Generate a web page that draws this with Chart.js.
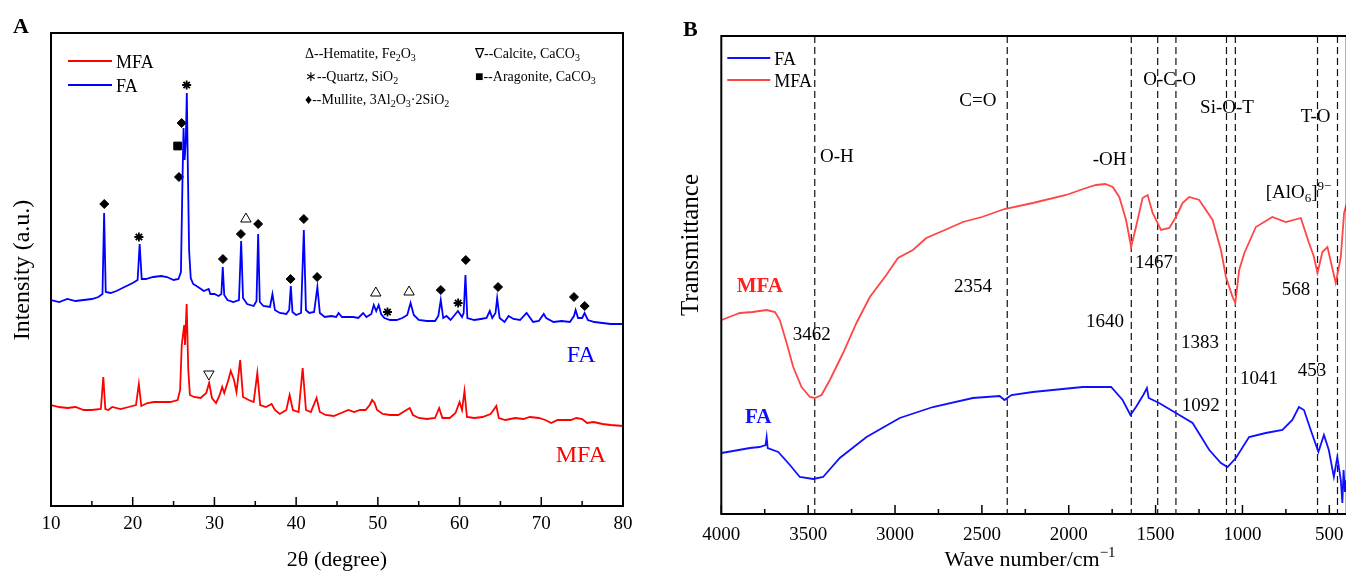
<!DOCTYPE html>
<html>
<head>
<meta charset="utf-8">
<script src="https://cdn.jsdelivr.net/npm/chart.js@4.4.1/dist/chart.umd.min.js"></script>
<style>
  html, body { margin: 0; padding: 0; background: #fff; overflow: hidden; }
  #wrap { position: relative; width: 1346px; height: 574px; overflow: hidden; }
  #chartA { position: absolute; left: 0; top: 0; }
  #chartB { position: absolute; left: 660px; top: 0; }
</style>
</head>
<body>
<div id="wrap">
  <canvas id="chartA" width="660" height="574"></canvas>
  <canvas id="chartB" width="700" height="574"></canvas>
</div>
<script>
const SERIF = "'Liberation Serif', 'Times New Roman', serif";

// ---------- A : XRD ----------
const xrdTicks = [10, 20, 30, 40, 50, 60, 70, 80];
const xrdMinorTicks = [15, 25, 35, 45, 55, 65, 75];

const faTheta = [10, 11, 12, 13, 14, 15, 15.8, 16.3, 16.5, 16.7, 17.3, 18, 19, 20, 20.6, 20.85, 21.1, 21.6, 22.5, 23.5,
  24.2, 25, 25.6, 25.9, 26.1, 26.22, 26.35, 26.5, 26.62, 26.75, 26.9, 27.1, 27.4, 28, 28.7, 29.3, 29.5, 30, 30.5, 30.85,
  31.02, 31.2, 31.6, 32.3, 33, 33.27, 33.5, 34, 34.8, 35.15, 35.35, 35.55, 36, 36.8, 37.1, 37.4, 38, 38.8, 39.15, 39.35,
  39.55, 40, 40.6, 40.94, 41.2, 41.6, 42.2, 42.6, 42.9, 43.5, 44.3, 44.9, 45.2, 45.6, 46.2, 47, 47.6, 48.2, 48.6, 49.2,
  49.5, 49.8, 50.1, 50.4, 50.8, 51.5, 52.3, 53, 53.6, 54, 54.4, 55, 56, 57, 57.4, 57.7, 58, 58.4, 58.9, 59.5,
  59.8, 60.3, 60.5, 60.72, 60.95, 61.8, 62.6, 63.3, 63.7, 64, 64.4, 64.6, 64.9, 65.5, 66, 66.6, 67.4, 68.2, 69, 69.7,
  70.3, 70.6, 71.5, 72.5, 73.5, 74, 74.2, 74.5, 75, 75.3, 75.7, 76.5, 77.5, 78.5, 80];
const faCounts = [206, 204, 207, 205, 206, 207, 209, 212, 293, 214, 213, 215, 219, 223, 226, 262, 227, 227, 229, 230,
  229, 226, 227, 234, 330, 378, 346, 366, 413, 336, 256, 228, 222, 219, 215, 217, 212, 212, 210, 212,
  239, 211, 206, 204, 206, 265, 208, 202, 200, 205, 272, 204, 200, 199, 212, 196, 193, 192, 196, 220,
  194, 191, 193, 276, 196, 193, 194, 219, 193, 189, 190, 189, 193, 189, 189, 189, 188, 193, 189, 192,
  201, 195, 201, 192, 188, 186, 186, 188, 191, 203, 191, 186, 185, 185, 190, 206, 188, 190, 186, 192,
  195, 189, 193, 231, 188, 186, 187, 188, 195, 188, 193, 208, 188, 184, 190, 187, 186, 193, 184, 185,
  192, 188, 184, 185, 184, 190, 196, 188, 188, 193, 186, 184, 183, 182, 182];

const mfaTheta = [10, 11, 12, 13, 14, 15, 16.1, 16.4, 16.65, 17, 17.5, 18.5, 19.5, 20.4, 20.75, 21.05, 21.8, 22.6, 23.6, 24.6,
  25.5, 25.8, 26, 26.15, 26.3, 26.4, 26.6, 26.8, 27, 27.5, 28.3, 29, 29.35, 29.7, 30.2, 30.6, 30.95, 31.2, 31.7, 32,
  32.4, 32.7, 33.15, 33.5, 34.2, 34.8, 35.25, 35.6, 36.3, 37, 37.4, 38, 38.8, 39.2, 39.6, 40.3, 40.8, 41.2, 41.8, 42.5,
  42.9, 43.6, 44.6, 45.5, 46.4, 47.1, 47.8, 48.5, 49, 49.3, 49.6, 49.9, 50.6, 51.5, 52.5, 53.5, 53.9, 54.3, 55, 56,
  57, 57.5, 57.9, 58.8, 59.5, 60, 60.3, 60.6, 60.9, 61.8, 62.8, 63.8, 64.5, 64.8, 65.6, 66.8, 67.8, 68.6, 69.7, 70.5,
  71.2, 72, 72.7, 73.6, 74.3, 75, 75.6, 76.4, 77.5, 78.5, 80];
const mfaCounts = [101, 99, 98, 99, 96, 96, 97, 129, 97, 96, 99, 97, 99, 101, 122, 100, 103, 104, 104, 104,
  106, 116, 161, 171, 181, 161, 202, 136, 111, 109, 108, 113, 123, 108, 103, 110, 119, 113, 126, 135,
  126, 114, 146, 109, 106, 104, 133, 101, 99, 102, 96, 92, 96, 111, 96, 94, 138, 96, 94, 108,
  94, 91, 90, 93, 96, 94, 96, 96, 101, 106, 103, 96, 92, 91, 91, 96, 98, 91, 88, 87,
  88, 98, 88, 88, 93, 104, 96, 115, 89, 88, 89, 92, 100, 88, 86, 88, 87, 89, 88, 86,
  83, 86, 86, 86, 88, 87, 83, 84, 82, 81, 80];

// phase markers (position of the symbol above each peak)
const mulliteTheta = [16.52, 25.99, 25.66, 31.04, 33.24, 35.35, 39.32, 40.94, 42.57, 57.7, 60.76, 64.71, 74.0, 75.31];
const mulliteY = [302, 383, 329, 247, 272, 282, 227, 287, 229, 216, 246, 219, 209, 200];
const quartzTheta = [20.76, 26.6, 51.18, 59.82];
const quartzY = [269, 421, 194, 203];
const hematiteTheta = [33.85, 49.75, 53.82];
const hematiteY = [287, 213, 214];
const calciteTheta = [29.32];
const calciteY = [132];
const aragoniteTheta = [25.5];
const aragoniteY = [360];

// ---------- B : FTIR ----------
const irTicks = [4000, 3500, 3000, 2500, 2000, 1500, 1000, 500];
const irMinorTicks = [3750, 3250, 2750, 2250, 1750, 1250, 750];
const bandLines = [3462, 2354, 1640, 1488, 1383, 1092, 1041, 568, 453];

const irMfaWave = [3998, 3940, 3893, 3820, 3739, 3691, 3663, 3624, 3586, 3538, 3490, 3462, 3423, 3375, 3299, 3222,
  3145, 3050, 2983, 2897, 2820, 2700, 2609, 2500, 2370, 2207, 2015, 1900, 1843, 1790, 1747, 1709, 1670, 1641, 1613,
  1575, 1546, 1517, 1469, 1421, 1383, 1345, 1307, 1249, 1172, 1124, 1095, 1057, 1041, 1019, 989, 923, 828, 751, 664,
  617, 590, 568, 540, 511, 463, 434, 415, 402];
const irMfaT = [194, 198, 201, 202, 204, 202, 194, 171, 147, 127, 117, 116, 119, 134, 161, 191,
  217, 239, 256, 264, 276, 285, 292, 297, 305, 311, 319, 326, 329, 330, 327, 317, 294, 267, 287,
  316, 319, 301, 284, 286, 297, 311, 317, 314, 294, 264, 237, 217, 211, 244, 261, 287, 297, 292, 296,
  271, 258, 241, 262, 267, 231, 257, 301, 309];

const irFaWave = [3998, 3900, 3835, 3780, 3745, 3739, 3733, 3672, 3605, 3548, 3471, 3414, 3318, 3164, 2973, 2782,
  2552, 2398, 2370, 2330, 2207, 1920, 1756, 1690, 1645, 1613, 1571, 1550, 1540, 1480, 1383, 1287, 1191, 1124, 1086,
  1038, 962, 866, 770, 713, 675, 646, 607, 563, 531, 503, 474, 454, 434, 425, 418, 410, 402];
const irFaT = [61, 64, 66, 67, 69, 77, 66, 62, 49, 37, 35, 37, 56, 77, 96, 107,
  116, 118, 114, 119, 122, 127, 127, 114, 99, 107, 119, 126, 116, 111, 101, 91, 64, 51, 47,
  56, 77, 81, 84, 94, 107, 104, 84, 62, 79, 64, 37, 57, 34, 11, 44, 22, 34];

// band labels, placed in data coordinates (wave number, transmittance)
const irNotes = [
  { t: 'O-H', x: 3432, y: 352 },
  { t: 'C=O', x: 2630, y: 408 },
  { t: '-OH', x: 1862, y: 349 },
  { t: 'O-C-O', x: 1571, y: 429 },
  { t: 'Si-O-T', x: 1244, y: 401 },
  { t: 'T-O', x: 665, y: 392 },
  { t: '[AlO_{6}]^{9\u2212}', x: 866, y: 316 },
  { t: '3462', x: 3589, y: 174 },
  { t: '2354', x: 2660, y: 222 },
  { t: '1640', x: 1901, y: 187 },
  { t: '1467', x: 1619, y: 246 },
  { t: '1383', x: 1354, y: 166 },
  { t: '1092', x: 1350, y: 103 },
  { t: '1041', x: 1014, y: 130 },
  { t: '568', x: 774, y: 219 },
  { t: '453', x: 682, y: 138 }
];

function pts(xs, ys) {
  return xs.map((x, i) => ({ x: x, y: ys[i] }));
}

// text with _{sub} and ^{sup}
function richText(ctx, str, x, y, size, opt) {
  opt = opt || {};
  const weight = opt.bold ? 'bold ' : '';
  const small = Math.round(size * 0.68);
  const segs = str.split(/(_\{[^}]*\}|\^\{[^}]*\})/).filter(s => s.length).map(p => {
    if (p.startsWith('_{')) return { t: p.slice(2, -1), f: small, dy: size * 0.22 };
    if (p.startsWith('^{')) return { t: p.slice(2, -1), f: small, dy: -size * 0.42 };
    return { t: p, f: size, dy: 0 };
  });
  let w = 0;
  segs.forEach(s => { ctx.font = weight + s.f + 'px ' + SERIF; s.w = ctx.measureText(s.t).width; w += s.w; });
  let cx = opt.align === 'center' ? x - w / 2 : x;
  ctx.fillStyle = opt.color || '#000';
  ctx.textAlign = 'left';
  ctx.textBaseline = 'alphabetic';
  segs.forEach(s => {
    ctx.font = weight + s.f + 'px ' + SERIF;
    ctx.fillText(s.t, cx, y + s.dy);
    cx += s.w;
  });
}

function drawFrameAndTicks(chart, majors, minors) {
  const { ctx, chartArea: a, scales: { x } } = chart;
  ctx.save();
  ctx.strokeStyle = '#000';
  ctx.lineWidth = 1.5;
  ctx.beginPath();
  majors.forEach(v => { const px = x.getPixelForValue(v); ctx.moveTo(px, a.bottom); ctx.lineTo(px, a.bottom - 9); });
  minors.forEach(v => { const px = x.getPixelForValue(v); ctx.moveTo(px, a.bottom); ctx.lineTo(px, a.bottom - 5); });
  ctx.stroke();
  ctx.lineWidth = 2;
  ctx.strokeRect(a.left, a.top, a.right - a.left, a.bottom - a.top);
  ctx.restore();
}

function legendLine(ctx, x1, x2, y, color, label, size) {
  ctx.save();
  ctx.strokeStyle = color;
  ctx.lineWidth = 2;
  ctx.beginPath(); ctx.moveTo(x1, y); ctx.lineTo(x2, y); ctx.stroke();
  ctx.restore();
  richText(ctx, label, x2 + 4, y + 7, size);
}

function markerSet(xs, ys, style, radius, extra) {
  return Object.assign({
    data: pts(xs, ys), showLine: false, pointStyle: style, pointRadius: radius,
    pointBackgroundColor: '#000', pointBorderColor: '#000', pointBorderWidth: 1
  }, extra || {});
}

const xrdDecor = {
  id: 'xrdDecor',
  afterDraw(chart) {
    const { ctx, chartArea: a, scales: { x, y } } = chart;
    drawFrameAndTicks(chart, xrdTicks, xrdMinorTicks);
    // titles
    richText(ctx, '2\u03b8 (degree)', (a.left + a.right) / 2, 566, 22, { align: 'center' });
    ctx.save();
    ctx.translate(29, 270);
    ctx.rotate(-Math.PI / 2);
    richText(ctx, 'Intensity (a.u.)', 0, 0, 24, { align: 'center' });
    ctx.restore();
    richText(ctx, 'A', 13, 33, 22, { bold: true });
    // series legend
    legendLine(ctx, a.left + 17, a.left + 61, a.top + 28, '#ff0000', 'MFA', 18);
    legendLine(ctx, a.left + 17, a.left + 61, a.top + 52, '#0000ff', 'FA', 18);
    // phase legend
    richText(ctx, '\u0394--Hematite, Fe_{2}O_{3}', 305, 58, 14);
    richText(ctx, '\u2217--Quartz, SiO_{2}', 305, 81, 14);
    richText(ctx, '\u2666--Mullite, 3Al_{2}O_{3}\u00b72SiO_{2}', 305, 104, 14);
    richText(ctx, '\u2207--Calcite, CaCO_{3}', 475, 58, 14);
    richText(ctx, '\u25a0--Aragonite, CaCO_{3}', 475, 81, 14);
    // curve names
    richText(ctx, 'FA', x.getPixelForValue(73.11), y.getPixelForValue(144), 24, { color: '#0000ff' });
    richText(ctx, 'MFA', x.getPixelForValue(71.77), y.getPixelForValue(44), 24, { color: '#ff0000' });
  }
};

new Chart(document.getElementById('chartA'), {
  type: 'scatter',
  data: {
    datasets: [
      { data: pts(faTheta, faCounts), showLine: true, borderColor: '#0000ff', borderWidth: 1.8, pointRadius: 0 },
      { data: pts(mfaTheta, mfaCounts), showLine: true, borderColor: '#ff0000', borderWidth: 1.8, pointRadius: 0 },
      markerSet(mulliteTheta, mulliteY, 'rectRot', 4.5),
      markerSet(quartzTheta, quartzY, 'star', 4.5, { pointBorderWidth: 1.8 }),
      markerSet(hematiteTheta, hematiteY, 'triangle', 6, { pointBackgroundColor: 'rgba(0,0,0,0)' }),
      markerSet(calciteTheta, calciteY, 'triangle', 6, { pointBackgroundColor: 'rgba(0,0,0,0)', pointRotation: 180 }),
      markerSet(aragoniteTheta, aragoniteY, 'rect', 5.5)
    ]
  },
  options: {
    animation: false,
    responsive: false,
    devicePixelRatio: 1,
    layout: { padding: { left: 51, top: 33, right: 37, bottom: 0 } },
    plugins: { legend: { display: false }, tooltip: { enabled: false } },
    scales: {
      x: {
        type: 'linear', min: 10, max: 80,
        afterBuildTicks: s => { s.ticks = xrdTicks.map(v => ({ value: v })); },
        afterFit: s => { s.height = 68; },
        grid: { display: false, drawTicks: false },
        border: { display: false },
        ticks: { color: '#000', padding: 7, autoSkip: false, maxRotation: 0, font: { family: SERIF, size: 19 }, callback: v => String(v) }
      },
      y: { display: false, min: 0, max: 473 }
    }
  },
  plugins: [xrdDecor]
});

// ---------- chart B ----------
const ftirDecor = {
  id: 'ftirDecor',
  beforeDatasetsDraw(chart) {
    const { ctx, chartArea: a, scales: { x } } = chart;
    ctx.save();
    ctx.strokeStyle = '#111';
    ctx.lineWidth = 1.2;
    ctx.setLineDash([7, 4]);
    ctx.beginPath();
    bandLines.forEach(v => { const px = x.getPixelForValue(v); ctx.moveTo(px, a.top); ctx.lineTo(px, a.bottom); });
    ctx.stroke();
    ctx.restore();
  },
  afterDraw(chart) {
    const { ctx, chartArea: a, scales: { x, y } } = chart;
    drawFrameAndTicks(chart, irTicks, irMinorTicks);
    richText(ctx, 'Wave number/cm^{\u22121}', 370, 566, 22, { align: 'center' });
    ctx.save();
    ctx.translate(38, 245);
    ctx.rotate(-Math.PI / 2);
    richText(ctx, 'Transmittance', 0, 0, 25, { align: 'center' });
    ctx.restore();
    richText(ctx, 'B', 23, 36, 22, { bold: true });
    legendLine(ctx, a.left + 6, a.left + 49, 58, '#1010ff', 'FA', 18);
    legendLine(ctx, a.left + 6, a.left + 49, 80, '#ff4545', 'MFA', 18);
    irNotes.forEach(n => richText(ctx, n.t, x.getPixelForValue(n.x), y.getPixelForValue(n.y), 19));
    richText(ctx, 'MFA', x.getPixelForValue(3911), y.getPixelForValue(222), 21, { bold: true, color: '#ff2020' });
    richText(ctx, 'FA', x.getPixelForValue(3864), y.getPixelForValue(91), 21, { bold: true, color: '#1010ff' });
  }
};

new Chart(document.getElementById('chartB'), {
  type: 'scatter',
  data: {
    datasets: [
      { data: pts(irFaWave, irFaT), showLine: true, borderColor: '#1010ff', borderWidth: 1.8, pointRadius: 0 },
      { data: pts(irMfaWave, irMfaT), showLine: true, borderColor: '#ff4545', borderWidth: 1.8, pointRadius: 0 }
    ]
  },
  options: {
    animation: false,
    responsive: false,
    devicePixelRatio: 1,
    layout: { padding: { left: 61.3, top: 36, right: 13.3, bottom: 0 } },
    plugins: { legend: { display: false }, tooltip: { enabled: false } },
    scales: {
      x: {
        type: 'linear', min: 400, max: 4000, reverse: true,
        afterBuildTicks: s => { s.ticks = irTicks.map(v => ({ value: v })); },
        afterFit: s => { s.height = 60; },
        grid: { display: false, drawTicks: false },
        border: { display: false },
        ticks: { color: '#000', padding: 10, autoSkip: false, maxRotation: 0, font: { family: SERIF, size: 19 }, callback: v => String(v) }
      },
      y: { display: false, min: 0, max: 478 }
    }
  },
  plugins: [ftirDecor]
});
</script>
</body>
</html>
